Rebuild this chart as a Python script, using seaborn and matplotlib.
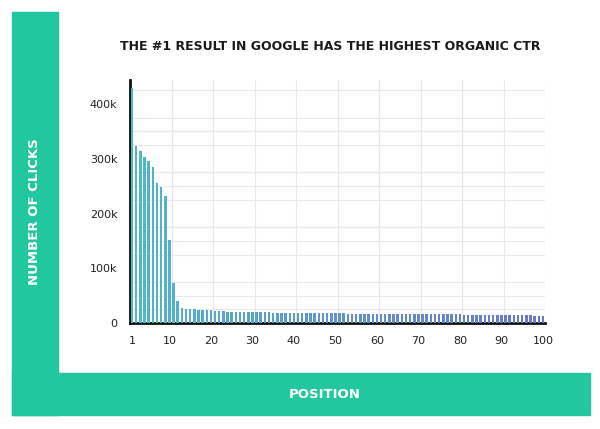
import matplotlib
matplotlib.use("Agg")
import matplotlib.pyplot as plt
from matplotlib.patches import Rectangle
import seaborn as sns
import pandas as pd
import numpy as np

positions = list(range(1, 101))
clicks_k = [429, 323, 314, 303, 296, 285, 256, 248, 232, 152,
            73, 40, 27, 25, 25, 25, 24, 24, 24, 23,
            22, 22, 22, 21, 21, 21, 21, 20, 20, 20,
            20, 20, 20, 20, 19, 19, 19, 19, 19, 19,
            19, 19, 18, 18, 18, 18, 18, 18, 18, 18,
            18, 18, 17, 17, 17, 17, 17, 17, 17, 17,
            17, 17, 17, 17, 16, 16, 16, 16, 16, 16,
            16, 16, 16, 16, 16, 16, 16, 16, 16, 16,
            15, 15, 15, 15, 15, 15, 15, 15, 15, 15,
            15, 15, 14, 14, 14, 14, 14, 13, 13, 12]
xtick_labels = ["1", "10", "20", "30", "40", "50", "60", "70", "80", "90", "100"]
ytick_vals = [0, 100, 200, 300, 400]
ytick_labels = ["0", "100k", "200k", "300k", "400k"]

df = pd.DataFrame({"pos": positions, "clicks": [v * 1000 for v in clicks_k]})

fig = plt.figure(figsize=(6, 4.29), dpi=100)
fig.patch.set_facecolor("white")
teal = "#22c7a0"
fig.patches.append(Rectangle((12/600, 1-415/429), 46/600, (415-12)/429, transform=fig.transFigure, color=teal, zorder=0))
fig.patches.append(Rectangle((12/600, 1-415/429), (590-12)/600, (415-373)/429, transform=fig.transFigure, color=teal, zorder=0))

ax = fig.add_axes([130/600, 1-323/429, (545-130)/600, (323-80)/429])
cmap = sns.blend_palette(["#3cc6dc", "#4c94dc", "#5a6cd2"], n_colors=100)
sns.barplot(data=df, x="pos", y="clicks", hue="pos", palette=cmap, legend=False,
            width=0.6, ax=ax, zorder=3)
ax.set_xlim(-0.5, 99.5)
ax.set_ylim(0, 444000)
ax.set_xticks([0] + [p - 1 for p in range(10, 101, 10)])
ax.set_xticklabels(xtick_labels)
ax.set_yticks([v * 1000 for v in ytick_vals])
ax.set_yticklabels(ytick_labels)
ax.set_yticks(np.arange(0, 444001, 25000), minor=True)
ax.set_xticks(np.arange(-0.5, 100, 10), minor=True)
ax.grid(which="minor", color="#e8e8e8", lw=0.8, zorder=0)
ax.grid(which="major", visible=False)
ax.tick_params(which="both", length=0, labelsize=8, colors="#222222", pad=9)
ax.set_xlabel("")
ax.set_ylabel("")
for s in ["top", "right"]:
    ax.spines[s].set_visible(False)
for s in ["left", "bottom"]:
    ax.spines[s].set_linewidth(2)
    ax.spines[s].set_color("#111111")

fig.text(330/600, 1-46/429, "THE #1 RESULT IN GOOGLE HAS THE HIGHEST ORGANIC CTR",
         ha="center", va="center", fontsize=9, fontweight="bold", color="#1a1a1a")
fig.text(35/600, 1-212/429, "NUMBER OF CLICKS", rotation=90, ha="center", va="center",
         fontsize=9.5, fontweight="bold", color="white")
fig.text(325/600, 1-394/429, "POSITION", ha="center", va="center",
         fontsize=9.5, fontweight="bold", color="white")
fig.savefig("out.png", dpi=100)
